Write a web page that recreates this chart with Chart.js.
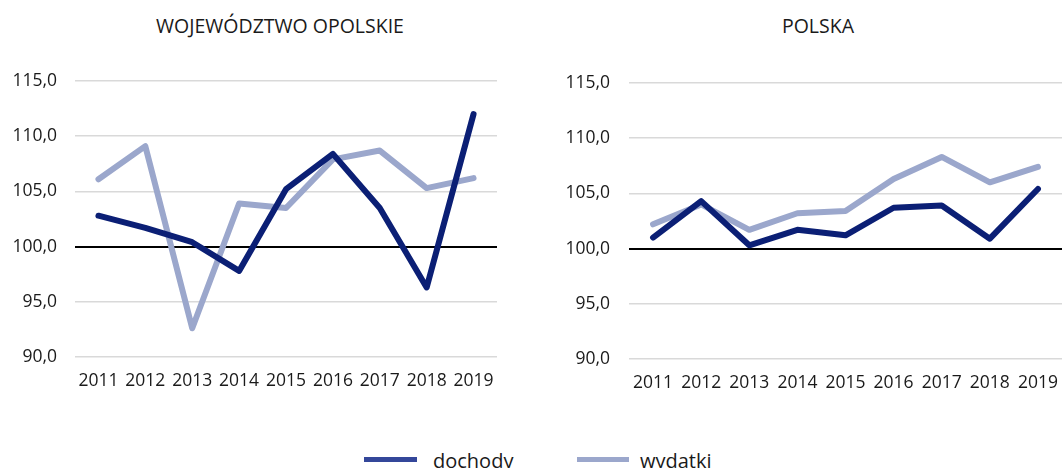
<!DOCTYPE html>
<html>
<head>
<meta charset="utf-8">
<script src="https://cdn.jsdelivr.net/npm/chart.js@4/dist/chart.umd.min.js"></script>
<style>
  html, body { margin: 0; padding: 0; background: #fff; }
  body { width: 1064px; height: 468px; position: relative; overflow: hidden; font-family: "Open Sans", "Noto Sans", sans-serif; color: #1a1a1a; }
  .box { position: absolute; }
  .title { position: absolute; top: 13px; font-size: 19.5px; line-height: 26px; white-space: nowrap; transform: translateX(-50%); }
  .leg { position: absolute; top: 449px; height: 24px; line-height: 24px; font-size: 20px; white-space: nowrap; }
  .sw { position: absolute; top: 457px; height: 5px; }
</style>
</head>
<body>
<div class="title" style="left:280px">WOJEWÓDZTWO OPOLSKIE</div>
<div class="title" style="left:818px">POLSKA</div>
<div class="box" style="left:0;top:0;width:510px;height:406px"><canvas id="chartOpolskie"></canvas></div>
<div class="box" style="left:540px;top:2px;width:534px;height:406px"><canvas id="chartPolska"></canvas></div>

<div class="sw" style="left:364px;width:53px;background:#34479a"></div>
<div class="leg" style="left:433px">dochody</div>
<div class="sw" style="left:577px;width:52px;background:#9ba7cc"></div>
<div class="leg" style="left:640px">wydatki</div>

<script>
// lata
const years = ['2011', '2012', '2013', '2014', '2015', '2016', '2017', '2018', '2019'];

// województwo opolskie (poprzedni rok = 100)
const opolskieDochody = [102.8, 101.7, 100.4, 97.8, 105.2, 108.4, 103.5, 96.3, 112.0];
const opolskieWydatki = [106.1, 109.1, 92.6, 103.9, 103.5, 107.9, 108.7, 105.3, 106.2];

// Polska
const polskaDochody = [101.0, 104.3, 100.3, 101.7, 101.2, 103.7, 103.9, 100.9, 105.4];
const polskaWydatki = [102.2, 104.0, 101.7, 103.2, 103.4, 106.3, 108.3, 106.0, 107.4];

const yMin = 90;
const yMax = 115;
const yStep = 5;

const DARK = '#0b1f75';
const LIGHT = '#9ba7cc';
const FONT = '"Open Sans", "Noto Sans", sans-serif';

function lineSet(label, data, color) {
    return {
        label,
        data,
        borderColor: color,
        backgroundColor: color,
        borderWidth: 6,
        pointRadius: 0,
        tension: 0,
        borderCapStyle: 'round',
        borderJoinStyle: 'round',
        fill: false,
    };
}

function makeChart(id, dochody, wydatki, axisWidth, labelGap, padRight) {
    return new Chart(document.getElementById(id), {
        type: 'line',
        data: {
            labels: years,
            datasets: [
                lineSet('dochody', dochody, DARK),
                lineSet('wydatki', wydatki, LIGHT),
            ],
        },
        options: {
            responsive: true,
            maintainAspectRatio: false,
            animation: false,
            layout: { padding: { top: 81, right: padRight, bottom: 0, left: 0 } },
            plugins: {
                legend: { display: false },
                title: { display: false },
                tooltip: { enabled: false },
            },
            scales: {
                x: {
                    type: 'category',
                    offset: true,
                    grid: { display: false, drawTicks: false },
                    border: { display: false },
                    ticks: {
                        color: '#1a1a1a',
                        padding: 14,
                        maxRotation: 0,
                        autoSkip: false,
                        font: { family: FONT, size: 17.5 },
                    },
                },
                y: {
                    min: yMin,
                    max: yMax,
                    afterFit: (axis) => { axis.width = axisWidth; },
                    grid: {
                        drawTicks: false,
                        color: (c) => (c.tick && c.tick.value === 100 ? '#000000' : '#d9d9d9'),
                        lineWidth: (c) => (c.tick && c.tick.value === 100 ? 2 : 1.5),
                    },
                    border: { display: false },
                    ticks: {
                        stepSize: yStep,
                        color: '#1a1a1a',
                        padding: labelGap,
                        font: { family: FONT, size: 17.5 },
                        callback: (v) => v.toFixed(1).replace('.', ','),
                    },
                },
            },
        },
    });
}

makeChart('chartOpolskie', opolskieDochody, opolskieWydatki, 75, 18, 13);
makeChart('chartPolska', polskaDochody, polskaWydatki, 89, 19, 12);
</script>
</body>
</html>
